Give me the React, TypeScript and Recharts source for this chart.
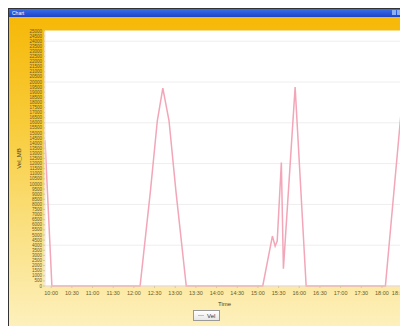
import { LineChart, Line, XAxis, YAxis, CartesianGrid, ReferenceLine, Legend } from 'recharts';

// minutes since midnight
const times = [591, 601, 729, 744, 754, 762, 771, 781, 796, 907, 921, 925, 928, 934, 937, 954, 970, 1085, 1112];
const speeds = [14300, 0, 0, 9300, 16200, 19400, 16200, 9300, 0, 0, 4900, 3900, 4400, 12100, 1700, 19500, 0, 0, 20200];

const xTicks = [600, 630, 660, 690, 720, 750, 780, 810, 840, 870, 900, 930, 960, 990, 1020, 1050, 1080, 1110];
const yTicks = [
  0, 500, 1000, 1500, 2000, 2500, 3000, 3500, 4000, 4500, 5000, 5500, 6000, 6500, 7000, 7500, 8000, 8500,
  9000, 9500, 10000, 10500, 11000, 11500, 12000, 12500, 13000, 13500, 14000, 14500, 15000, 15500, 16000,
  16500, 17000, 17500, 18000, 18500, 19000, 19500, 20000, 20500, 21000, 21500, 22000, 22500, 23000, 23500,
  24000, 24500, 25000,
];
const gridLines = [4000, 8000, 12000, 16000, 20000, 24000];

const data = times.map((t, i) => ({ time: t, speed: speeds[i] }));

const fmtTime = (m: number) => `${Math.floor(m / 60)}:${String(m % 60).padStart(2, '0')}`;

const tickColor = '#6b5a2a';

// last label would run past the window edge, so pull it in a little
function TimeTick({ x, y, payload, index }: any) {
  const last = index === xTicks.length - 1;
  return (
    <text
      x={last ? x + 3 : x}
      y={y + 5}
      textAnchor={last ? 'end' : 'middle'}
      fontSize={5.5}
      fill={tickColor}
    >
      {fmtTime(payload.value)}
    </text>
  );
}

function LegendBox() {
  return (
    <div
      style={{
        display: 'flex',
        alignItems: 'center',
        gap: 3,
        height: 9,
        padding: '0 4px',
        border: '1px solid #9a9a9a',
        background: 'linear-gradient(#ffffff, #e8e8e8)',
        fontFamily: 'Liberation Sans, sans-serif',
        fontSize: 6,
        color: '#333',
        boxSizing: 'content-box',
      }}
    >
      <span style={{ display: 'inline-block', width: 6, height: 1.5, background: '#f2a6b8' }} />
      <span>Vel</span>
    </div>
  );
}

export default function App() {
  return (
    <div
      style={{
        width: 399,
        height: 317,
        borderLeft: '1px solid #333',
        borderTop: '1px solid #333',
        fontFamily: 'Liberation Sans, sans-serif',
        position: 'relative',
      }}
    >
      <div
        style={{
          height: 8,
          background: 'linear-gradient(#3b6ee8, #1c44c8)',
          color: '#fff',
          fontSize: 5,
          lineHeight: '8px',
          paddingLeft: 3,
          position: 'relative',
        }}
      >
        Chart
        <div style={{ position: 'absolute', right: 2, top: 1, display: 'flex', gap: 1 }}>
          {[0, 1, 2].map((k) => (
            <span key={k} style={{ width: 4, height: 5, background: '#8fb0f0', display: 'inline-block' }} />
          ))}
        </div>
      </div>
      <div style={{ background: 'linear-gradient(#f6b808 0%, #f8cc3a 35%, #fae184 70%, #fdf0bc 100%)', height: 309 }}>
        <LineChart width={399} height={309} data={data} margin={{ top: 14, right: 4, bottom: 8, left: 0 }}>
          <CartesianGrid fill="#ffffff" stroke="#ffffff" />
          {gridLines.map((v) => (
            <ReferenceLine key={v} y={v} stroke="#eeeeee" strokeWidth={1} />
          ))}
          <XAxis
            dataKey="time"
            type="number"
            domain={[591, 1112]}
            ticks={xTicks}
            interval={0}
            tick={<TimeTick />}
            tickSize={2}
            tickLine={{ stroke: '#d9c7a0' }}
            axisLine={{ stroke: '#e6c9b8' }}
            height={22}
            label={{ value: 'Time', position: 'insideBottom', offset: 2, fontSize: 6, fill: '#4a3f20' }}
          />
          <YAxis
            type="number"
            domain={[0, 25000]}
            ticks={yTicks}
            interval={0}
            tick={{ fontSize: 4.5, fill: tickColor }}
            tickSize={2}
            tickMargin={1}
            tickLine={{ stroke: '#d9c7a0' }}
            axisLine={{ stroke: '#f0dede' }}
            width={36}
            label={{
              value: 'Vel_MB',
              angle: -90,
              position: 'insideLeft',
              offset: 10,
              fontSize: 6,
              fill: '#4a3f20',
              style: { textAnchor: 'middle' },
            }}
          />
          <Legend
            verticalAlign="bottom"
            height={10}
            content={() => <LegendBox />}
            wrapperStyle={{ left: 184, bottom: 6, width: 'auto' }}
          />
          <Line
            dataKey="speed"
            name="Vel"
            type="linear"
            stroke="#f2a6b8"
            strokeWidth={1.5}
            dot={false}
            isAnimationActive={false}
          />
        </LineChart>
      </div>
    </div>
  );
}
